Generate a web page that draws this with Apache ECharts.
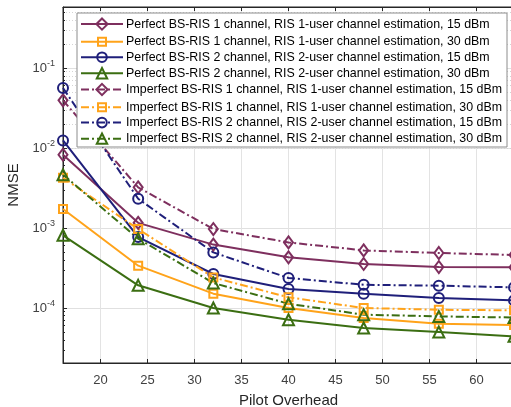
<!DOCTYPE html>
<html>
<head>
<meta charset="utf-8">
<script src="https://cdn.jsdelivr.net/npm/echarts@6/dist/echarts.min.js"></script>
<style>html,body{margin:0;padding:0;background:#fff}#c{width:511px;height:407px}</style>
</head>
<body>
<div id="c"></div>
<script>
const pilot = [16, 24, 32, 40, 48, 56, 64];
const seriesNames = [
  'Perfect BS-RIS 1 channel, RIS 1-user channel estimation, 15 dBm',
  'Perfect BS-RIS 1 channel, RIS 1-user channel estimation, 30 dBm',
  'Perfect BS-RIS 2 channel, RIS 2-user channel estimation, 15 dBm',
  'Perfect BS-RIS 2 channel, RIS 2-user channel estimation, 30 dBm',
  'Imperfect BS-RIS 1 channel, RIS 1-user channel estimation, 15 dBm',
  'Imperfect BS-RIS 1 channel, RIS 1-user channel estimation, 30 dBm',
  'Imperfect BS-RIS 2 channel, RIS 2-user channel estimation, 15 dBm',
  'Imperfect BS-RIS 2 channel, RIS 2-user channel estimation, 30 dBm'
];
const perf1_15 = [0.00824, 0.00116, 6.2e-4, 4.3e-4, 3.55e-4, 3.25e-4, 3.22e-4];
const perf1_30 = [0.00173, 3.38e-4, 1.51e-4, 1.0e-4, 7.5e-5, 6.37e-5, 6.13e-5];
const perf2_15 = [0.01245, 7.7e-4, 2.66e-4, 1.73e-4, 1.51e-4, 1.33e-4, 1.245e-4];
const perf2_30 = [8.1e-4, 1.92e-4, 1.0e-4, 7.14e-5, 5.62e-5, 5.0e-5, 4.42e-5];
const imp1_15 = [0.0394, 0.00322, 9.7e-4, 6.6e-4, 5.25e-4, 4.87e-4, 4.6e-4];
const imp1_30 = [0.00425, 9.7e-4, 2.41e-4, 1.36e-4, 1.0e-4, 9.5e-5, 9.35e-5];
const imp2_15 = [0.0562, 0.00232, 4.95e-4, 2.37e-4, 1.95e-4, 1.9e-4, 1.81e-4];
const imp2_30 = [0.00464, 7.35e-4, 2.05e-4, 1.13e-4, 8.25e-5, 7.85e-5, 7.6e-5];
const xTicks = [20, 25, 30, 35, 40, 45, 50, 55, 60];
const yMinorTicks = [3e-5,4e-5,5e-5,6e-5,7e-5,8e-5,9e-5,2e-4,3e-4,4e-4,5e-4,6e-4,7e-4,8e-4,9e-4,2e-3,3e-3,4e-3,5e-3,6e-3,7e-3,8e-3,9e-3,2e-2,3e-2,4e-2,5e-2,6e-2,7e-2,8e-2,9e-2,2e-1,3e-1,4e-1,5e-1];

const allData = [perf1_15, perf1_30, perf2_15, perf2_30, imp1_15, imp1_30, imp2_15, imp2_30];
const colors = ['#7E2F5E', '#FFA31A', '#1F1F7A', '#3B6E12', '#7E2F5E', '#FFA31A', '#1F1F7A', '#3B6E12'];
const symbols = ['diamond', 'rect', 'circle', 'triangle', 'diamond', 'rect', 'circle', 'triangle'];
const symSizes = [[9, 12], 8, 10, 11, [9, 12], 8, 10, 11];
const legendIconH = [14, 10, 12, 13, 14, 10, 12, 13];
const dashDot = [8, 3, 2, 3];

const series = [{
  name: '_grid', type: 'line', data: [], z: 0, silent: true,
  markLine: {
    silent: true, symbol: 'none', label: {show: false}, animation: false, z: 0,
    data: yMinorTicks.map(v => ({yAxis: v, lineStyle: {color: '#d4d4d4', type: [1, 2], width: 1}}))
  }
}];
allData.forEach((d, i) => {
  series.push({
    name: seriesNames[i], type: 'line', z: 3,
    data: d.map((v, k) => [pilot[k], v]),
    symbol: symbols[i], symbolSize: symSizes[i], showAllSymbol: true,
    lineStyle: {color: colors[i], width: 2, type: i < 4 ? 'solid' : dashDot},
    itemStyle: {color: 'rgba(255,255,255,0)', borderColor: colors[i], borderWidth: 2},
    emphasis: {disabled: true},
    animation: false
  });
});

const legends = seriesNames.map((n, i) => ({
  data: [n], orient: 'vertical', left: 80, top: 24.5 + i * 16.35 - legendIconH[i] / 2,
  z: 50, zlevel: 1, itemWidth: 42, itemHeight: legendIconH[i], padding: 0,
  textStyle: {fontSize: 12.4, lineHeight: 8, color: '#000', fontFamily: 'Liberation Sans, Arial, sans-serif', padding: [0, 0, 0, -2]},
  selectedMode: false
}));

const axisColor = '#262626';
const chart = echarts.init(document.getElementById('c'));
chart.setOption({
  backgroundColor: '#fff',
  animation: false,
  textStyle: {fontFamily: 'Liberation Sans, Arial, sans-serif'},
  grid: {left: 63, right: -3, top: 7, bottom: 44, containLabel: false, outerBoundsMode: 'none',
         show: true, borderColor: axisColor, borderWidth: 1, backgroundColor: 'transparent'},
  graphic: [{
    type: 'rect', zlevel: 1, z: 0, silent: true,
    shape: {x: 77, y: 13, width: 430, height: 134},
    style: {fill: '#fff', stroke: '#8c8c8c', lineWidth: 1}
  }],
  legend: legends,
  xAxis: [{
    type: 'value', min: 16, max: 64,
    name: 'Pilot Overhead', nameLocation: 'middle', nameGap: 30,
    nameTextStyle: {fontSize: 15, color: axisColor},
    axisLine: {lineStyle: {color: axisColor, width: 1}},
    axisTick: {show: true, inside: true, length: 4, customValues: xTicks, lineStyle: {color: axisColor}},
    splitLine: {show: true, lineStyle: {color: '#e3e3e3', width: 1}},
    axisLabel: {fontSize: 13, color: '#404040', margin: 11, customValues: xTicks}
  }, {
    type: 'value', min: 16, max: 64, position: 'top',
    axisLine: {show: true, lineStyle: {color: axisColor, width: 1}},
    axisTick: {show: true, inside: true, length: 4, customValues: xTicks, lineStyle: {color: axisColor}},
    splitLine: {show: false},
    axisLabel: {show: false}
  }],
  yAxis: [{
    type: 'log', min: 2.053e-5, max: 0.5788, logBase: 10,
    name: 'NMSE', nameLocation: 'middle', nameGap: 34,
    nameTextStyle: {fontSize: 15, color: axisColor},
    axisLine: {show: true, lineStyle: {color: axisColor, width: 1}},
    axisTick: {show: true, inside: true, length: 4, lineStyle: {color: axisColor}},
    splitLine: {show: true, lineStyle: {color: '#e0e0e0', width: 1}},
    axisLabel: {
      showMinLabel: false, showMaxLabel: false, margin: 8, color: '#404040',
      formatter: v => '{b|10}{s|' + Math.round(Math.log10(v)) + '}',
      rich: {
        b: {fontSize: 13, color: '#404040'},
        s: {fontSize: 9, color: '#404040', padding: [0, 0, 9, 0]}
      }
    }
  }, {
    type: 'log', min: 2.053e-5, max: 0.5788, logBase: 10, position: 'left',
    axisLine: {show: false},
    axisTick: {show: true, inside: true, length: 2, customValues: yMinorTicks, lineStyle: {color: axisColor}},
    splitLine: {show: false},
    axisLabel: {show: false}
  }],
  series: series
});
</script>
</body>
</html>
